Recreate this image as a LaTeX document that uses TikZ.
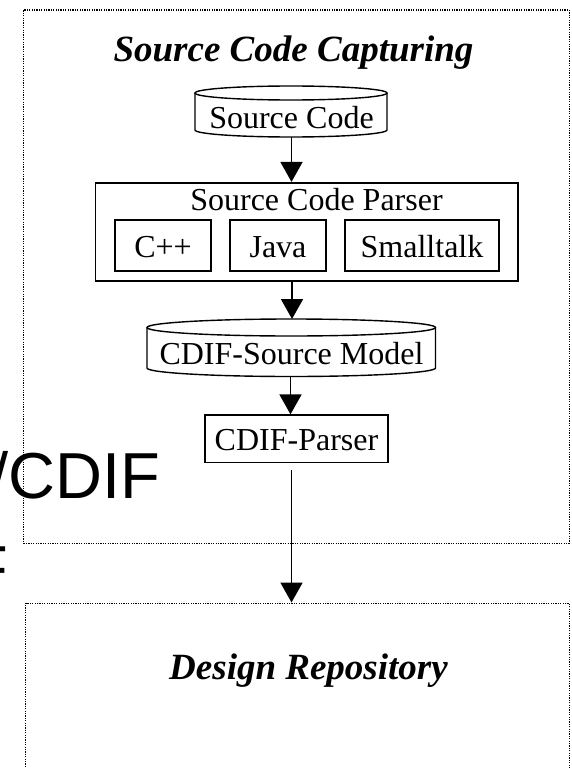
\documentclass[tikz,border=0pt]{standalone}
\usepackage{fontspec}
\setmainfont{Liberation Serif}
\newfontfamily\arialf{Liberation Sans}
\usetikzlibrary{arrows.meta,calc}
\begin{document}
\begin{tikzpicture}[x=1pt,y=1pt,
  lab/.style={font=\fontsize{32}{36}\selectfont, inner sep=0pt},
  ttl/.style={font=\fontsize{37}{42}\selectfont\bfseries\itshape, inner sep=0pt},
  bigsans/.style={font=\arialf\fontsize{65}{70}\selectfont, inner sep=0pt},
  boxn/.style={draw, line width=1.6pt, inner sep=0pt},
  smallbox/.style={draw, line width=1.3pt, inner sep=0pt},
  hold/.style={inner sep=0pt, outer sep=0pt},
  cyl/.style={line width=1.4pt},
  region/.style={draw, line width=1.3pt, dash pattern=on 1.2pt off 1.2pt, inner sep=0pt},
  flow/.style={line width=1.8pt, -{Triangle[width=22pt,length=20pt]}},
]
\useasboundingbox (0,0) rectangle (572,-768);
\clip (0,0) rectangle (572,-768);

% stray large sans text at left edge
\node[bigsans, anchor=base west] (cdif) at (-9.3,-498) {/CDIF};
\node[bigsans, anchor=base west] (ff) at (-32,-591) {F};

% region 1
\node[region, minimum width=545.5pt, minimum height=533.4pt, anchor=north west] (cap) at (23,-9.3) {};
\node[ttl, anchor=base] (capt) at (293.5,-61.7) {Source Code Capturing};

% Source Code cylinder
\node[hold, minimum width=192pt, minimum height=51pt] (sc) at (291,-111.5) {};
\draw[cyl] ([yshift=-7pt]sc.north) ellipse[x radius=96pt, y radius=7pt];
\draw[cyl] ([yshift=-7pt]sc.north west) -- ([yshift=7pt]sc.south west)
  arc[start angle=180, end angle=360, x radius=96pt, y radius=7pt]
  -- ([yshift=-7pt]sc.north east);
\node[lab, anchor=base] (sct) at (291.5,-128) {Source Code};

% Source Code Parser
\node[boxn, minimum width=422.6pt, minimum height=98pt] (pars) at (306.9,-231.7) {};
\node[lab, anchor=base] (parst) at (316.5,-210) {Source Code Parser};
\node[smallbox, minimum width=96pt, minimum height=51pt] (cpp) at (163,-245.5) {};
\node[smallbox, minimum width=96pt, minimum height=51pt] (java) at (278,-245.5) {};
\node[smallbox, minimum width=154pt, minimum height=51pt] (st) at (422,-245.5) {};
\node[lab, anchor=base] at (163,-257) {C++};
\node[lab, anchor=base] at (278,-257) {Java};
\node[lab, anchor=base] at (422,-257) {Smalltalk};

% CDIF-Source Model cylinder
\node[hold, minimum width=288.5pt, minimum height=57.5pt] (cm) at (291.25,-347.75) {};
\draw[cyl] ([yshift=-8.5pt]cm.north) ellipse[x radius=144.25pt, y radius=8.5pt];
\draw[cyl] ([yshift=-8.5pt]cm.north west) -- ([yshift=8.5pt]cm.south west)
  arc[start angle=180, end angle=360, x radius=144.25pt, y radius=8.5pt]
  -- ([yshift=-8.5pt]cm.north east);
\node[lab, anchor=base] (cmt) at (291.5,-364) {CDIF-Source Model};

% CDIF-Parser
\node[smallbox, minimum width=183pt, minimum height=47.5pt] (cp) at (296.5,-438.75) {};
\node[lab, anchor=base] (cpt) at (296.5,-450) {CDIF-Parser};

% region 2
\node[region, minimum width=543.5pt, minimum height=200pt, anchor=north west] (repo) at (25,-602.5) {};
\node[ttl, anchor=base] (repot) at (308.5,-679.3) {Design Repository};

% connectors
\draw[flow] (sc.south -| 291.5,0) -- (291.5,0 |- pars.north);
\draw[flow] (pars.south -| 292,0) -- (292,0 |- cm.north);
\draw[flow] (cm.south -| 290.5,0) -- (290.5,0 |- cp.north);
\coordinate (gs) at (291.5,-470);
\draw[flow] (gs) -- (gs |- repo.north);
\end{tikzpicture}
\end{document}
